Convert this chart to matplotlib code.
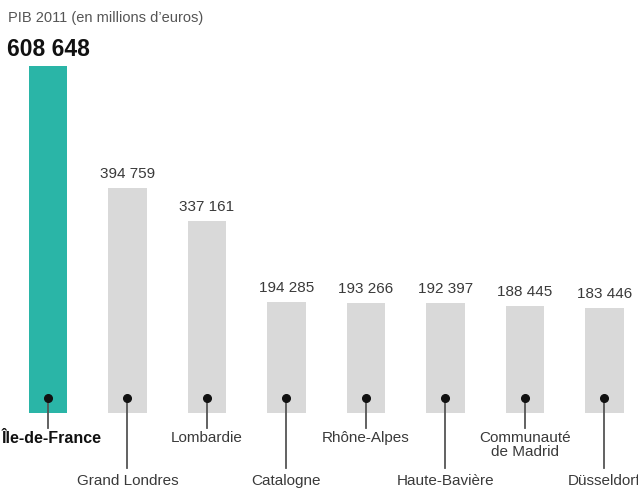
import matplotlib.pyplot as plt
from matplotlib.transforms import blended_transform_factory

regions = ["Île-de-France", "Grand Londres", "Lombardie", "Catalogne", "Rhône-Alpes",
           "Haute-Bavière", "Communauté\nde Madrid", "Düsseldorf"]
pib = [608648, 394759, 337161, 194285, 193266, 192397, 188445, 183446]
value_labels = ["608 648", "394 759", "337 161", "194 285", "193 266", "192 397", "188 445", "183 446"]

plt.rcParams["font.family"] = ["Liberation Sans", "DejaVu Sans"]

TEAL = "#2ab5a7"
GREY = "#d9d9d9"
TXT = "#3a3a3a"

fig = plt.figure(figsize=(6.38, 4.94), dpi=100)
ax = fig.add_axes([0, 0, 1, 1])
ax.set_axis_off()

# pixel-like mapping: bar spacing 79.5px, first centre at 48px, baseline at 81px from bottom
step = 79.5
x0 = -48 / step
ax.set_xlim(x0, x0 + 638 / step)
per_px = 608648 / 347
ax.set_ylim(-81 * per_px, (494 - 81) * per_px)

xs = list(range(len(pib)))
colors = [TEAL] + [GREY] * (len(pib) - 1)
ax.bar(xs, pib, width=0.48, color=colors, zorder=1)

for i, (v, lab) in enumerate(zip(pib, value_labels)):
    if i == 0:
        continue
    ax.text(i, v + 7 * per_px, lab, ha="center", va="bottom", fontsize=11, color=TXT)

fig.text(8 / 638, 1 - 18 / 494, "PIB 2011 (en millions d\u2019euros)", ha="left", va="center",
         fontsize=10.5, color="#555555")
fig.text(7 / 638, 1 - 50 / 494, value_labels[0], ha="left", va="center",
         fontsize=16.5, color="#111111", fontweight="bold")

tr = blended_transform_factory(ax.transData, ax.transAxes)
dot_y = 1 - 398 / 494
for i, name in enumerate(regions):
    upper = i % 2 == 0
    end_y = 1 - (428 if upper else 468) / 494
    lab_y = 1 - (431 if upper else 474) / 494
    ax.plot([i, i], [dot_y, end_y], transform=tr, color="#555555", lw=1.3, zorder=2)
    ax.plot([i], [dot_y], "o", transform=tr, color="#111111", ms=5.5, zorder=3)
    if i == 0:
        fig.text(2 / 638, lab_y, name, ha="left", va="top", fontsize=11.5,
                 fontweight="bold", color="#111111")
    else:
        ax.text(i, lab_y, name, transform=tr, ha="center", va="top", fontsize=11,
                color=TXT, linespacing=1.0)

fig.savefig("out.png", dpi=100)
